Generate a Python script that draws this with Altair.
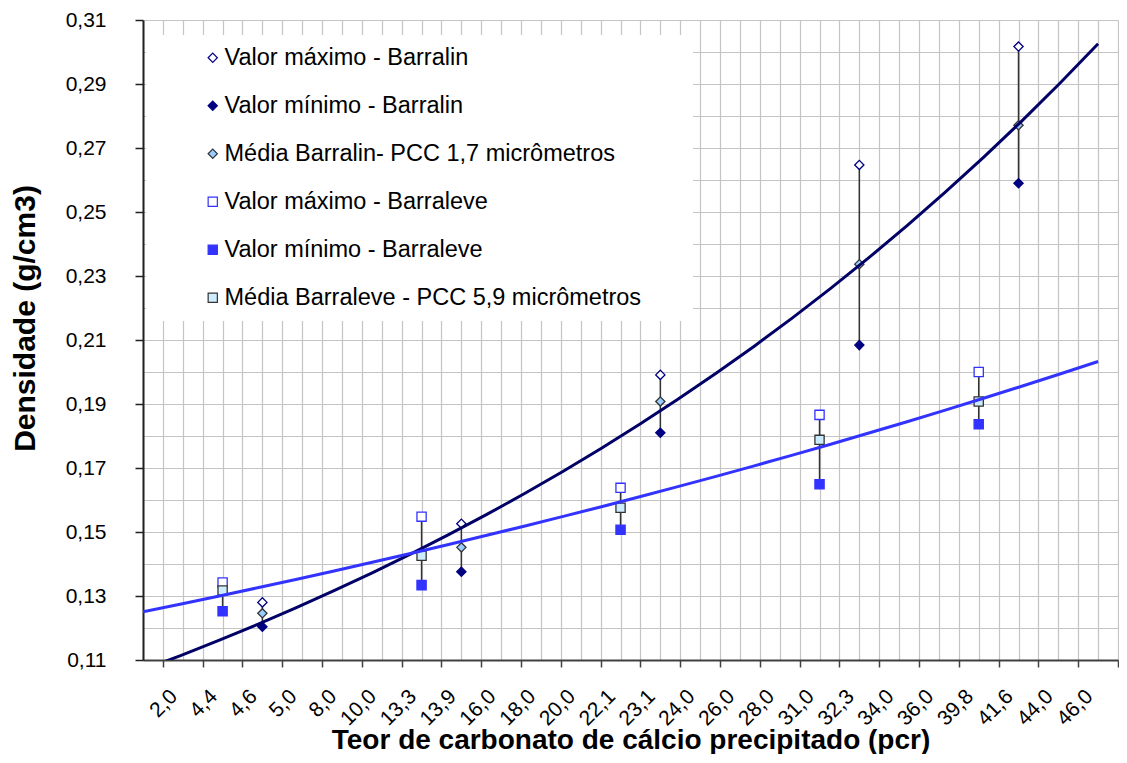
import json
import altair as alt
import pandas as pd

# ---------------- data ----------------
x_labels = ["2,0", "4,4", "4,6", "5,0", "8,0", "10,0", "13,3", "13,9", "16,0", "18,0",
            "20,0", "22,1", "23,1", "24,0", "26,0", "28,0", "31,0", "32,3", "34,0",
            "36,0", "39,8", "41,6", "44,0", "46,0"]

series_names = ["Valor máximo - Barralin", "Valor mínimo - Barralin",
                "Média Barralin- PCC 1,7 micrômetros",
                "Valor máximo - Barraleve", "Valor mínimo - Barraleve",
                "Média Barraleve - PCC 5,9 micrômetros"]

# Barralin (PCC 1,7 micrometros)
barralin_x = [6, 16, 26, 36, 44]
barralin_max = [0.1280, 0.1526, 0.1991, 0.2647, 0.3017]
barralin_mean = [0.1246, 0.1452, 0.1908, 0.2337, 0.2771]
barralin_min = [0.1204, 0.1376, 0.1810, 0.2084, 0.2590]

# Barraleve (PCC 5,9 micrometros)
barraleve_x = [4, 14, 24, 34, 42]
barraleve_max = [0.1342, 0.1548, 0.1638, 0.1866, 0.2000]
barraleve_mean = [0.1317, 0.1426, 0.1576, 0.1788, 0.1908]
barraleve_min = [0.1252, 0.1334, 0.1507, 0.1649, 0.1837]

# ---------------- tables ----------------
pts = []
rules = []
trend = []
groups = [
    ("Barralin", barralin_x, barralin_max, barralin_mean, barralin_min, series_names[0:3]),
    ("Barraleve", barraleve_x, barraleve_max, barraleve_mean, barraleve_min, series_names[3:6]),
]
for g, xs, mx, me, mn, names in groups:
    for i, xv in enumerate(xs):
        pts.append({"x": xv, "y": mx[i], "serie": names[0]})
        pts.append({"x": xv, "y": mn[i], "serie": names[1]})
        pts.append({"x": xv, "y": me[i], "serie": names[2]})
        rules.append({"x": xv, "ymax": mx[i], "ymin": mn[i], "grupo": g})
        trend.append({"x": xv, "y": me[i], "grupo": g})

pts_df = pd.DataFrame(pts)
rules_df = pd.DataFrame(rules)
trend_df = pd.DataFrame(trend)

FONT = "Liberation Sans"
GRID = "#c4c4c4"

lab_js = json.dumps(x_labels, ensure_ascii=False)
x_label_expr = f"(datum.value % 2 == 1 && datum.value < 48) ? {lab_js}[(datum.value - 1) / 2] : ''"
y_label_expr = "round(datum.value * 100) % 2 == 1 ? replace(format(datum.value, '.2f'), '.', ',') : ''"

x_scale = alt.Scale(domain=[0, 49], nice=False, zero=False)
y_scale = alt.Scale(domain=[0.11, 0.31], nice=False, zero=False)

x_axis = alt.Axis(
    values=list(range(0, 50)),
    grid=True, gridColor=GRID, gridWidth=1.2,
    labelExpr=x_label_expr, labelAngle=-45, labelAlign="right", labelBaseline="middle",
    labelFont=FONT, labelFontSize=21, labelColor="black",
    labelPadding=26, labelOffset=11, labelOverlap=False, labelFlush=False, labelBound=False,
    tickSize=7, tickColor="#404040", tickWidth=1.5,
    tickOpacity={"condition": {"test": "datum.value % 2 == 1", "value": 1}, "value": 0},
    domainColor="#404040", domainWidth=2,
    title="Teor de carbonato de cálcio precipitado (pcr)",
    titleFont=FONT, titleFontSize=28, titleFontWeight="bold", titleColor="black",
    titleBaseline="alphabetic", titleY=88,
)

y_values = [round(0.11 + 0.01 * i, 2) for i in range(21)]
y_axis = alt.Axis(
    values=y_values,
    grid=True, gridColor=GRID, gridWidth=1.2,
    labelExpr=y_label_expr, labelFont=FONT, labelFontSize=21, labelColor="black",
    labelPadding=29, labelOverlap=False, labelFlush=False, labelBound=False,
    tickSize=8, tickColor="#202020", tickWidth=1.5,
    tickOpacity={"condition": {"test": "round(datum.value * 100) % 2 == 1", "value": 1}, "value": 0},
    domainColor="#202020", domainWidth=2,
    title="Densidade (g/cm3)",
    titleFont=FONT, titleFontSize=30, titleFontWeight="bold", titleColor="black",
    titleX=-103, titleY=298,
)

err = alt.Chart(rules_df).mark_rule(color="#333333", strokeWidth=1.5).encode(
    x=alt.X("x:Q", scale=x_scale, axis=x_axis),
    y=alt.Y("ymax:Q", scale=y_scale, axis=y_axis),
    y2="ymin:Q",
)

legend = alt.Legend(
    title="\u00a0", titleOrient="right", titlePadding=41, titleFontSize=11,
    orient="none", legendX=3, legendY=15,
    fillColor="white", padding=11, rowPadding=23,
    labelFont=FONT, labelFontSize=23.5, labelColor="black", labelOffset=0, labelLimit=1000,
    symbolOffset=44, symbolStrokeWidth=1.2,
)

points = alt.Chart(pts_df).mark_point(opacity=1, strokeWidth=1.3).encode(
    x=alt.X("x:Q", scale=x_scale, axis=x_axis),
    y=alt.Y("y:Q", scale=y_scale, axis=y_axis),
    shape=alt.Shape("serie:N", sort=series_names, legend=legend,
                    scale=alt.Scale(domain=series_names,
                                    range=["diamond", "diamond", "diamond", "square", "square", "square"])),
    fill=alt.Fill("serie:N", sort=series_names, legend=legend,
                  scale=alt.Scale(domain=series_names,
                                  range=["white", "#000080", "#99CCFF", "white", "#3333FF", "#CCECFF"])),
    stroke=alt.Stroke("serie:N", sort=series_names, legend=legend,
                      scale=alt.Scale(domain=series_names,
                                      range=["#000080", "#000080", "#333333", "#3333FF", "#3333FF", "#333333"])),
    size=alt.Size("serie:N", sort=series_names, legend=legend,
                  scale=alt.Scale(domain=series_names, range=[85, 85, 170, 75, 80, 135])),
)

trend_layers = []
for g, col in [("Barralin", "#000066"), ("Barraleve", "#3333FF")]:
    trend_layers.append(
        alt.Chart(trend_df).transform_filter(alt.datum.grupo == g)
        .transform_regression("x", "y", method="exp", extent=[0, 48])
        .mark_line(color=col, strokeWidth=3, clip=True)
        .encode(x=alt.X("x:Q", scale=x_scale, axis=x_axis),
                y=alt.Y("y:Q", scale=y_scale, axis=y_axis))
    )

chart = alt.layer(err, points, *trend_layers).properties(
    width=975, height=640,
    autosize=alt.AutoSizeParams(type="none"),
    padding={"left": 135, "top": 12, "right": 1, "bottom": 94},
    background="white",
).configure_view(strokeOpacity=0)

chart.save("out.html", embed_options={"renderer": "svg", "actions": False})
